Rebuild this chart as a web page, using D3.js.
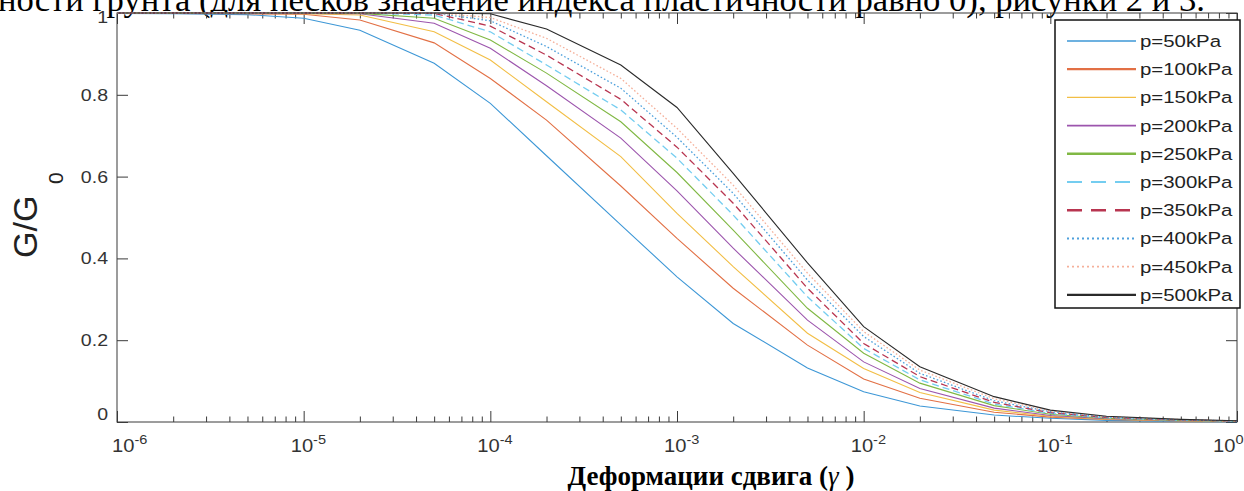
<!DOCTYPE html>
<html><head><meta charset="utf-8">
<script src="https://cdn.jsdelivr.net/npm/d3@7"></script>
<style>
html,body{margin:0;padding:0;background:#fff;overflow:hidden;}
svg{display:block;}
</style></head>
<body>
<svg id="chart" width="1244" height="491"></svg>
<script>
// ---- data ----
const strains = [1e-6,2e-6,5e-6,1e-5,2e-5,5e-5,1e-4,2e-4,5e-4,1e-3,2e-3,5e-3,1e-2,2e-2,5e-2,0.1,0.2,0.5,1];
const seriesNames = ["p=50kPa","p=100kPa","p=150kPa","p=200kPa","p=250kPa","p=300kPa","p=350kPa","p=400kPa","p=450kPa","p=500kPa"];
const p50  = [0.999,0.998,0.996,0.987,0.958,0.877,0.779,0.651,0.482,0.355,0.241,0.132,0.074,0.039,0.017,0.009,0.004,0.0015,0.0008];
const p100 = [1.000,0.999,0.998,0.997,0.983,0.927,0.840,0.738,0.577,0.449,0.327,0.188,0.105,0.058,0.024,0.012,0.006,0.0025,0.0013];
const p150 = [1.000,1.000,0.999,0.998,0.995,0.954,0.885,0.783,0.649,0.510,0.380,0.217,0.131,0.072,0.029,0.014,0.007,0.003,0.0015];
const p200 = [1.000,1.000,1.000,0.999,0.998,0.975,0.914,0.822,0.694,0.565,0.425,0.249,0.147,0.082,0.034,0.016,0.008,0.0035,0.0017];
const p250 = [1.000,1.000,1.000,1.000,0.999,0.987,0.934,0.853,0.734,0.610,0.469,0.278,0.168,0.095,0.040,0.019,0.009,0.004,0.002];
const p300 = [1.000,1.000,1.000,1.000,1.000,0.995,0.954,0.873,0.763,0.645,0.506,0.306,0.180,0.103,0.044,0.021,0.010,0.0045,0.0022];
const p350 = [1.000,1.000,1.000,1.000,1.000,0.999,0.968,0.897,0.789,0.672,0.535,0.327,0.192,0.111,0.048,0.023,0.011,0.005,0.0024];
const p400 = [1.000,1.000,1.000,1.000,1.000,1.000,0.981,0.918,0.816,0.696,0.559,0.347,0.209,0.119,0.052,0.025,0.012,0.0055,0.0026];
const p450 = [1.000,1.000,1.000,1.000,1.000,1.000,0.989,0.938,0.840,0.718,0.579,0.364,0.221,0.127,0.057,0.027,0.013,0.006,0.0028];
const p500 = [1.000,1.000,1.000,1.000,1.000,1.000,0.998,0.961,0.873,0.769,0.608,0.389,0.233,0.135,0.062,0.029,0.014,0.0065,0.003];
const allSeries = [p50,p100,p150,p200,p250,p300,p350,p400,p450,p500];

const xMajorExps = [-6,-5,-4,-3,-2,-1,0];
const yTicks = [0,0.2,0.4,0.6,0.8,1];
const yTickLabels = ["0","0.2","0.4","0.6","0.8","1"];
const topText = "ности грунта (для песков значение индекса пластичности равно 0), рисунки 2 и 3.";
const xLabelMain = "Деформации сдвига (";
const xLabelSym = "γ";
const xLabelEnd = " )";

// ---- styles ----
const colors = ["#3d97d6","#e27045","#f2be45","#9c55ad","#80b844","#74cdf0","#b83550","#4ea0dc","#f5b09a","#2a2a2a"];
const dashes = [null,null,null,null,null,"7,4","7,4","1.6,2.2","1.6,2.2",null];
const legendDashes = [null,null,null,null,null,"15,9","15,9","2,3","2,3",null];
const widths = [1.1,1.1,1.1,1.1,1.1,1.3,1.3,1.3,1.3,1.1];
const legendWidths = [1.6,2.2,1.4,1.6,2.4,2,2.4,2,1.6,2.2];

const svg = d3.select("#chart");
const L=117,R=1237,T=13,B=422;
const x = d3.scaleLog().domain([1e-6,1]).range([L,R]);
const y = d3.scaleLinear().domain([0,1]).range([B,T]);
const serif = "'Liberation Serif','Times New Roman',serif";
const sans = "'Liberation Sans',Arial,sans-serif";

// top cut-off paragraph text
svg.append("text").attr("x",-2).attr("y",11)
  .attr("font-family",serif).attr("font-size",33)
  .attr("textLength",1207).attr("lengthAdjust","spacingAndGlyphs")
  .attr("fill","#000").text(topText);

const axisColor = "#3a3a3a";
const majors = xMajorExps.map(e=>Math.pow(10,e));
const minors = [];
for(let e=-6;e<0;e++) for(let k=2;k<=9;k++) minors.push(k*Math.pow(10,e));

function styleAxis(g){
  g.select(".domain").remove();
  g.selectAll("line").attr("stroke",axisColor).attr("stroke-width",1);
  g.selectAll("text").remove();
}
svg.append("g").attr("transform",`translate(0,${B})`).call(d3.axisBottom(x).tickValues(majors).tickSize(-11).tickFormat("")).call(styleAxis);
svg.append("g").attr("transform",`translate(0,${B})`).call(d3.axisBottom(x).tickValues(minors).tickSize(-5.5).tickFormat("")).call(styleAxis);
svg.append("g").attr("transform",`translate(0,${T})`).call(d3.axisTop(x).tickValues(majors).tickSize(-11).tickFormat("")).call(styleAxis);
svg.append("g").attr("transform",`translate(0,${T})`).call(d3.axisTop(x).tickValues(minors).tickSize(-5.5).tickFormat("")).call(styleAxis);
svg.append("g").attr("transform",`translate(${L},0)`).call(d3.axisLeft(y).tickValues(yTicks).tickSize(-11).tickFormat("")).call(styleAxis);
svg.append("g").attr("transform",`translate(${R},0)`).call(d3.axisRight(y).tickValues(yTicks).tickSize(-11).tickFormat("")).call(styleAxis);

// box
svg.append("rect").attr("x",L).attr("y",T).attr("width",R-L).attr("height",B-T)
  .attr("fill","none").attr("stroke",axisColor).attr("stroke-width",1);

// curves
const line = d3.line().x((d,i)=>x(strains[i])).y(d=>y(d));
const plot = svg.append("g");
allSeries.forEach((s,i)=>{
  plot.append("path").datum(s).attr("d",line).attr("fill","none")
    .attr("stroke",colors[i]).attr("stroke-width",widths[i])
    .attr("stroke-dasharray",dashes[i]);
});

// y tick labels
yTicks.forEach((v,i)=>{
  let yy = y(v)+6;
  if(i===0) yy -= 8;
  if(i===yTicks.length-1) yy += 4;
  svg.append("text").attr("transform",`translate(108,${yy}) scale(1.15,1)`)
    .attr("text-anchor","end").attr("font-family",sans).attr("font-size",17)
    .attr("fill","#333").text(yTickLabels[i]);
});

// x tick labels
xMajorExps.forEach(e=>{
  const tx = Math.max(112, Math.min(x(Math.pow(10,e))-13, 1213));
  const t = svg.append("text").attr("transform",`translate(${tx},452) scale(1.12,1)`)
    .attr("text-anchor","start").attr("font-family",sans).attr("font-size",18).attr("fill","#333");
  t.append("tspan").text("10");
  t.append("tspan").attr("font-size",13).attr("dy",-8).text(String(e));
});

// y label
svg.append("text").attr("transform","translate(37,258) rotate(-90)")
  .attr("font-family",sans).attr("font-size",34).attr("fill","#222").text("G/G");
svg.append("text").attr("transform","translate(63,184) rotate(-90)")
  .attr("font-family",sans).attr("font-size",21).attr("fill","#222").text("0");

// x label
const xl = svg.append("text").attr("x",711).attr("y",485).attr("text-anchor","middle")
  .attr("font-family",serif).attr("font-size",27)
  .attr("font-weight","bold").attr("fill","#000");
xl.append("tspan").text(xLabelMain);
xl.append("tspan").attr("font-style","italic").attr("font-weight","normal").text(xLabelSym);
xl.append("tspan").text(xLabelEnd);

// legend
const lg = svg.append("g");
lg.append("rect").attr("x",1055).attr("y",20).attr("width",185).attr("height",288)
  .attr("fill","#fff").attr("stroke","#111").attr("stroke-width",1.5);
seriesNames.forEach((n,i)=>{
  const yy = 41 + i*28.2;
  lg.append("line").attr("x1",1067).attr("x2",1136).attr("y1",yy).attr("y2",yy)
    .attr("stroke",colors[i]).attr("stroke-width",legendWidths[i])
    .attr("stroke-dasharray",legendDashes[i]);
  lg.append("text").attr("transform",`translate(1140,${yy+6}) scale(1.2,1)`)
    .attr("font-family",sans).attr("font-size",17).attr("fill","#222").text(n);
});
</script>
</body></html>
